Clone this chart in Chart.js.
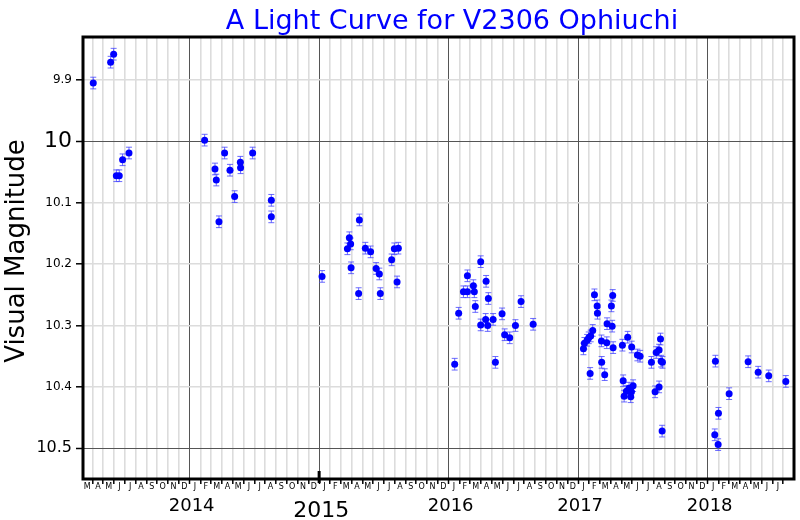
<!DOCTYPE html>
<html>
<head>
<meta charset="utf-8">
<title>V2306 Oph light curve</title>
<script src="https://cdn.jsdelivr.net/npm/chart.js@4.4.1/dist/chart.umd.min.js"></script>
<style>
    html, body { margin: 0; padding: 0; background: #fff; }
    #wrap { width: 800px; height: 520px; }
</style>
</head>
<body>
<div id="wrap"><canvas id="lightCurve" width="800" height="520"></canvas></div>
<script>
// x = months counted from 1 Jan 2013 (12 = Jan 2014, 24 = Jan 2015 ...)
var obsMonth = [
    3.07, 4.68, 4.96, 5.21, 5.48, 5.79, 6.38,
    13.39, 14.35, 14.47, 14.72, 15.24, 15.74, 16.17, 16.70, 16.72, 17.84, 19.57, 19.57,
    24.27, 26.62, 26.80, 26.92, 26.96, 27.66, 27.73, 28.28, 28.77, 29.28, 29.58, 29.67, 30.72, 30.97, 31.22, 31.34,
    36.56, 36.93, 37.37, 37.74, 37.74, 38.29, 38.38, 38.47, 38.97, 38.97, 39.43, 39.47, 39.62, 39.68, 40.12, 40.33,
    40.95, 41.19, 41.66, 42.19, 42.71, 43.83,
    48.49, 48.58, 48.83, 48.98, 49.11, 49.16, 49.35, 49.51, 49.76, 49.79, 50.16, 50.18, 50.46, 50.65, 50.68, 51.08,
    51.15, 51.20, 51.24, 52.10, 52.17, 52.26, 52.47, 52.59, 52.72, 52.87, 52.94, 52.96, 53.09, 53.49, 53.74,
    54.79, 55.13, 55.23, 55.50, 55.50, 55.63, 55.69, 55.78, 55.81,
    60.66, 60.72, 60.97, 61.00, 61.99, 63.75, 64.68, 65.66, 67.24
];
var obsMag = [
    9.905, 9.871, 9.858, 10.056, 10.056, 10.030, 10.019,
    9.998, 10.045, 10.063, 10.131, 10.019, 10.047, 10.090, 10.034, 10.043, 10.019, 10.096, 10.123,
    10.220, 10.175, 10.157, 10.167, 10.206, 10.248, 10.128, 10.174, 10.180, 10.207, 10.216, 10.248, 10.193, 10.175, 10.229, 10.174,
    10.363, 10.280, 10.245, 10.245, 10.219, 10.235, 10.245, 10.269, 10.196, 10.299, 10.290, 10.228, 10.300, 10.256, 10.290, 10.360,
    10.281, 10.315, 10.320, 10.300, 10.261, 10.298,
    10.338, 10.329, 10.324, 10.320, 10.378, 10.317, 10.308, 10.250, 10.268, 10.280, 10.325, 10.360, 10.380, 10.328, 10.297, 10.268,
    10.301, 10.251, 10.336, 10.332, 10.390, 10.415, 10.407, 10.319, 10.402, 10.416, 10.408, 10.335, 10.398, 10.348, 10.350,
    10.360, 10.408, 10.344, 10.340, 10.400, 10.322, 10.358, 10.472, 10.360,
    10.478, 10.358, 10.494, 10.443, 10.411, 10.359, 10.376, 10.382, 10.391
];
var obsErr = 0.0095;

var magTicks = [9.9, 10, 10.1, 10.2, 10.3, 10.4, 10.5];
var monthLetters = ['J', 'F', 'M', 'A', 'M', 'J', 'J', 'A', 'S', 'O', 'N', 'D'];
var yearLabels = ['2014', '2015', '2016', '2017', '2018'];
var yearStarts = [12, 24, 36, 48, 60];
var firstLabelMonth = 2, lastLabelMonth = 66;
var xMin = 2.12, xMax = 68;
var yMin = 9.83, yMax = 10.55;

var FONT = "'DejaVu Sans', Verdana, sans-serif";

var points = obsMonth.map((m, i) => ({ x: m, y: obsMag[i] }));

// error bars under the dots
var errorBars = {
    id: 'errorBars',
    beforeDatasetsDraw: function (chart) {
        var ctx = chart.ctx, xs = chart.scales.x, ys = chart.scales.y;
        ctx.save();
        ctx.strokeStyle = 'rgba(70,70,255,0.8)';
        ctx.lineWidth = 1;
        points.forEach(function (p) {
            var px = xs.getPixelForValue(p.x);
            var y1 = ys.getPixelForValue(p.y - obsErr);
            var y2 = ys.getPixelForValue(p.y + obsErr);
            ctx.beginPath();
            ctx.moveTo(px, y1); ctx.lineTo(px, y2);
            ctx.moveTo(px - 3, y1); ctx.lineTo(px + 3, y1);
            ctx.moveTo(px - 3, y2); ctx.lineTo(px + 3, y2);
            ctx.stroke();
        });
        ctx.restore();
    }
};

// frame, titles, month letters and year labels
var decorations = {
    id: 'decorations',
    afterDraw: function (chart) {
        var ctx = chart.ctx, a = chart.chartArea, xs = chart.scales.x;
        ctx.save();

        ctx.strokeStyle = '#000';
        ctx.lineWidth = 3;
        ctx.strokeRect(a.left, a.top, a.right - a.left, a.bottom - a.top);

        // odd long tick at 2015
        var p15 = xs.getPixelForValue(24);
        ctx.beginPath();
        ctx.moveTo(p15, a.bottom - 8); ctx.lineTo(p15, a.bottom + 4);
        ctx.stroke();

        ctx.fillStyle = '#0000ff';
        ctx.font = '27px ' + FONT;
        ctx.textAlign = 'center';
        ctx.textBaseline = 'alphabetic';
        ctx.fillText('A Light Curve for V2306 Ophiuchi', 452, 29);

        ctx.fillStyle = '#000';
        ctx.save();
        ctx.translate(24, 251);
        ctx.rotate(-Math.PI / 2);
        ctx.font = '26px ' + FONT;
        ctx.fillText('Visual Magnitude', 0, 0);
        ctx.restore();

        ctx.font = '8px ' + FONT;
        for (var m = firstLabelMonth; m <= lastLabelMonth; m++) {
            var cx = xs.getPixelForValue(m + 0.5);
            ctx.fillText(monthLetters[m % 12], cx, a.bottom + 10);
        }

        yearLabels.forEach(function (lab, i) {
            var big = lab === '2015';
            ctx.font = (big ? '22px ' : '18px ') + FONT;
            ctx.fillText(lab, xs.getPixelForValue(yearStarts[i]) + 2, big ? 517 : 511);
        });
        ctx.restore();
    }
};

var ctx = document.getElementById('lightCurve').getContext('2d');

new Chart(ctx, {
    type: 'scatter',
    data: {
        datasets: [{
            label: 'V2306 Oph',
            data: points,
            backgroundColor: '#0000ff',
            borderWidth: 0,
            pointRadius: 3.5,
            showLine: false
        }]
    },
    options: {
        responsive: false,
        animation: false,
        layout: {
            padding: { top: 37, right: 6, left: 0, bottom: 0 }
        },
        plugins: {
            legend: { display: false },
            title: { display: false },
            tooltip: { enabled: false }
        },
        scales: {
            x: {
                type: 'linear',
                min: xMin,
                max: xMax,
                afterBuildTicks: function (s) {
                    var t = [];
                    for (var m = 3; m <= 67; m++) t.push({ value: m });
                    s.ticks = t;
                },
                afterFit: function (s) { s.height = 41; },
                ticks: { callback: () => '', padding: 0 },
                border: { display: false },
                grid: {
                    color: c => (c.tick && c.tick.value % 12 === 0) ? '#555' : '#dcdcdc',
                    lineWidth: c => (c.tick && c.tick.value % 12 === 0) ? 1 : 1.6,
                    tickColor: '#000',
                    tickLength: 5,
                    tickWidth: 1.5
                }
            },
            y: {
                type: 'linear',
                reverse: true,
                min: yMin,
                max: yMax,
                afterBuildTicks: function (s) {
                    s.ticks = magTicks.map(v => ({ value: v }));
                },
                afterFit: function (s) { s.width = 83; },
                ticks: {
                    color: '#000',
                    padding: 4,
                    callback: v => String(Math.round(v * 10) / 10),
                    font: function (c) {
                        var v = c.tick ? Math.round(c.tick.value * 10) / 10 : 0;
                        return { family: FONT, size: v === 10 ? 22 : (v === 10.5 ? 16 : 12) };
                    }
                },
                border: { display: false },
                grid: {
                    color: c => (c.tick && (Math.abs(c.tick.value - 10) < 1e-6 || Math.abs(c.tick.value - 10.5) < 1e-6)) ? '#555' : '#dcdcdc',
                    lineWidth: c => (c.tick && (Math.abs(c.tick.value - 10) < 1e-6 || Math.abs(c.tick.value - 10.5) < 1e-6)) ? 1 : 1.6,
                    tickColor: '#000',
                    tickLength: 7,
                    tickWidth: 1.5
                }
            }
        }
    },
    plugins: [errorBars, decorations]
});
</script>
</body>
</html>
